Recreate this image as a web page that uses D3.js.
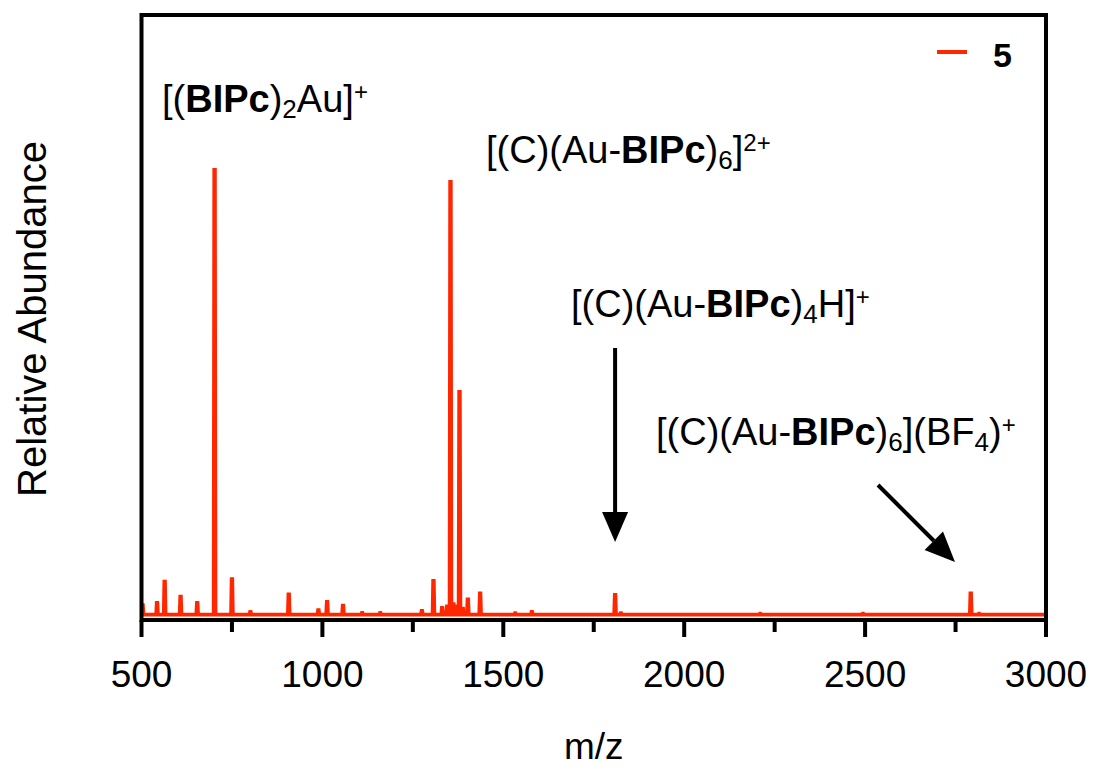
<!DOCTYPE html>
<html>
<head>
<meta charset="utf-8">
<script src="https://cdn.jsdelivr.net/npm/d3@7"></script>
<style>
  html, body { margin: 0; padding: 0; background: #fff; }
  svg { display: block; font-family: "Liberation Sans", Arial, Helvetica, sans-serif; }
</style>
</head>
<body>
<svg id="chart" width="1096" height="771"></svg>
<script>
// ---- data ----
const peakMz =        [503, 543, 564, 608, 654, 702, 750, 801, 907, 989, 1013, 1057, 1110, 1160, 1275, 1307, 1331, 1345, 1354, 1362, 1370, 1379, 1388, 1402, 1436, 1533, 1579, 1809, 1825, 2210, 2494, 2792, 2815];
const peakHeight =    [3.3, 3.8, 8.5, 5.2, 3.8, 100, 9.1, 1.8, 5.7, 2.2, 4.0,  3.2,  1.6,  1.6,  2.0,  8.7,  2.7,  3.0,  97.3, 3.5,  3.0,  50.7, 2.5,  4.6,  5.9,  1.5,  1.8,  5.6,  1.5,  1.4,  1.4,  5.9,  1.4];
const baselineLevel = 1.2;
const xDomain = [500, 3000];
const xTicksMajor = [500, 1000, 1500, 2000, 2500, 3000];
const xTicksMinor = [750, 1250, 1750, 2250, 2750];
const seriesName = "5";
const xTitle = "m/z";
const yTitle = "Relative Abundance";

// ---- layout ----
const svg = d3.select("#chart");
const L = 141.5, R = 1046, T = 15, B = 620;
const red = "#ff2600";

const x = d3.scaleLinear().domain(xDomain).range([L, R]);
const y = d3.scaleLinear().domain([0, 134.4]).range([B, T]);

// spectrum path: baseline with narrow sticks at each peak
const pts = [[xDomain[0], baselineLevel]];
peakMz.forEach((m, i) => {
  const hw = 2.4;
  pts.push([m - hw, baselineLevel]);
  pts.push([m - 0.8, peakHeight[i]]);
  pts.push([m + 0.8, peakHeight[i]]);
  pts.push([m + hw, baselineLevel]);
});
pts.push([xDomain[1], baselineLevel]);

const line = d3.line().x(d => x(d[0])).y(d => y(d[1]));
svg.append("path")
  .attr("d", line(pts))
  .attr("fill", "none")
  .attr("stroke", red)
  .attr("stroke-width", 3.8)
  .attr("stroke-linejoin", "miter");

// frame
svg.append("rect")
  .attr("x", L).attr("y", T)
  .attr("width", R - L).attr("height", B - T)
  .attr("fill", "none").attr("stroke", "#000").attr("stroke-width", 4);

// x axis ticks
svg.selectAll(".tmaj").data(xTicksMajor).enter().append("line")
  .attr("x1", d => x(d)).attr("x2", d => x(d))
  .attr("y1", B).attr("y2", B + 17)
  .attr("stroke", "#000").attr("stroke-width", 4);
svg.selectAll(".tmin").data(xTicksMinor).enter().append("line")
  .attr("x1", d => x(d)).attr("x2", d => x(d))
  .attr("y1", B).attr("y2", B + 12)
  .attr("stroke", "#000").attr("stroke-width", 4);
svg.selectAll(".tlab").data(xTicksMajor).enter().append("text")
  .attr("x", d => x(d)).attr("y", 687)
  .attr("text-anchor", "middle")
  .attr("font-size", 37)
  .attr("fill", "#000")
  .text(d => d);

// axis titles
svg.append("text")
  .attr("x", (L + R) / 2).attr("y", 759)
  .attr("text-anchor", "middle").attr("font-size", 37)
  .text(xTitle);
svg.append("text")
  .attr("transform", `translate(46, 319) rotate(-90)`)
  .attr("text-anchor", "middle").attr("font-size", 40)
  .text(yTitle);

// legend
svg.append("line")
  .attr("x1", 937).attr("x2", 967).attr("y1", 52).attr("y2", 52)
  .attr("stroke", red).attr("stroke-width", 4);
svg.append("text")
  .attr("x", 993).attr("y", 67)
  .attr("font-size", 34).attr("font-weight", "bold")
  .text(seriesName);

// annotation labels
function label(xp, yp, parts) {
  const t = svg.append("text").attr("x", xp).attr("y", yp).attr("font-size", 38).attr("fill", "#000");
  parts.forEach(p => {
    const s = t.append("tspan").text(p.t);
    if (p.b) s.attr("font-weight", "bold");
    if (p.sub) s.attr("font-size", 26).attr("dy", 6);
    if (p.sup) s.attr("font-size", 24).attr("dy", -12);
    if (p.reset) s.attr("dy", p.reset);
  });
  return t;
}
label(162, 112, [{t:"[("}, {t:"BIPc", b:1}, {t:")"}, {t:"2", sub:1}, {t:"Au]", reset:-6}, {t:"+", sup:1}]);
label(486, 163, [{t:"[(C)(Au-"}, {t:"BIPc", b:1}, {t:")"}, {t:"6", sub:1}, {t:"]", reset:-6}, {t:"2+", sup:1}]);
label(571, 317, [{t:"[(C)(Au-"}, {t:"BIPc", b:1}, {t:")"}, {t:"4", sub:1}, {t:"H]", reset:-6}, {t:"+", sup:1}]);
label(656, 445, [{t:"[(C)(Au-"}, {t:"BIPc", b:1}, {t:")"}, {t:"6", sub:1}, {t:"](BF", reset:-6}, {t:"4", sub:1}, {t:")", reset:-6}, {t:"+", sup:1}]);

// arrows
function arrow(x1, y1, x2, y2) {
  const ang = Math.atan2(y2 - y1, x2 - x1);
  const hl = 30, hw = 13;
  const bx = x2 - hl * Math.cos(ang), by = y2 - hl * Math.sin(ang);
  svg.append("line").attr("x1", x1).attr("y1", y1).attr("x2", bx).attr("y2", by)
    .attr("stroke", "#000").attr("stroke-width", 4);
  const px = -Math.sin(ang) * hw, py = Math.cos(ang) * hw;
  svg.append("path")
    .attr("d", `M${x2},${y2}L${bx + px},${by + py}L${bx - px},${by - py}Z`)
    .attr("fill", "#000");
}
arrow(x(1809), 348, x(1809), 542);
arrow(878, 485, 955, 562);
</script>
</body>
</html>
